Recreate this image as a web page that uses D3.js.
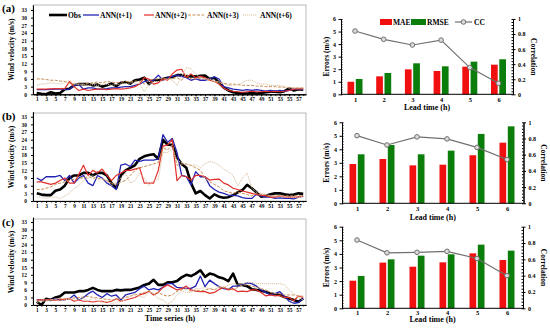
<!DOCTYPE html>
<html>
<head>
<meta charset="utf-8">
<script src="https://cdn.jsdelivr.net/npm/d3@7"></script>
<style>
  body { margin: 0; background: #fff; }
  svg { display: block; }
  text { font-family: "Liberation Serif", "Times New Roman", serif; font-weight: bold; }
</style>
</head>
<body>
<div id="chart"></div>
<script>
// --- Data: wind velocity (m/s), hours 1..58 ---
const obsA  = [0.5,0.2,0,0.8,0.3,0.5,2,2.2,3.5,4, 4,4,3.5,3.8,3,3.5,4.2,3.2,4.5,4.8, 4.2,5.5,5.8,6.5,4,5.5,5.5,6,6.5,6.8, 7.5,7.5,7,7,7,7.2,7.3,6,6.5,4.5, 2.6,1.5,0.8,0.5,0.4,0.3,0.5,0.3,0.5,0.8, 1,1,0.8,1.2,2.3,1.5,2,1.8];
const ann1A = [1.8,1.8,1.8,1.9,2,2,1.9,2,3.5,3.8, 2,2.5,2.5,2,2,2.2,2.5,2.5,2.8,3, 3,3.5,4,5,5.5,5.5,7.5,5.5,6.5,7, 7.5,7,6.5,5.5,6,5.5,5.5,6,6.8,6, 3,2.5,2,1.8,1.5,1.8,1.5,1.8,1.5,1.2, 1.5,1.2,1.5,1.2,1.5,2,2,1.8];
const ann2A = [2,2,2,2.1,2.2,2.2,2.2,5,3,1.5, 2,1.5,1.8,2,2,1.8,2,2.2,2,2.2, 2.5,3,4,6.5,6,4,4.5,6,5.5,8, 9.5,9.8,6.5,8,6.5,7,6.5,5.5,5,4, 2.5,1.5,1.2,1,0.8,1,1.2,1,1,1.2, 1,1.2,1,1.2,1.5,2,2.2,2];
const ann3A = [6,6,5.8,5.5,5.5,5.2,5,4.2,4,4, 4,4.2,4.5,4.8,4.5,5,4.8,4.5,4.8,5, 5,5.2,5,4,5.5,6,6,6.2,6,6.2, 6.5,5.5,8,6,6,6.2,6,5.5,5,5, 4.2,4,4,3.8,3.5,3.5,3.5,3.2,3.2,3, 3,3,2.8,2.8,2.5,2.5,2.5,2.5];
const ann6A = [3.5,4,4.2,4.5,4.2,4,4.5,5.5,4,4, 3.8,3.5,3.8,3.5,3.8,4,3.5,3.8,4,4.2, 4.5,4.5,4.2,1,4,5,5,5.2,6,5.5, 3.5,7,10.5,10,8,6.5,6,6,5,4.5, 4,3.5,3.5,3.8,4.5,5.5,5.5,4.5,4,4, 3.5,3.5,3.5,3,2.5,2.5,2.5,2.5];

const obsB  = [3,2.5,2.3,2.3,4,4.5,6,9,10,10, 11,11,10,11,11,10,7,5,10,12, 13,14,16.5,17.5,18,18.3,16.5,24,22,22, 17,14.5,13,7,3,3.9,2.3,1,2.6,1.7, 1.3,1.5,2.3,3.4,4.3,6.3,5,3.4,1.7,2, 2.6,3,3,2.6,2.3,2.5,3,2.8];
const ann1B = [9,8,9.5,9.5,9.5,10,8,10,7,9, 10,7,6,10,9,7,6,4.5,14,14.5, 13.5,16,15.5,16,16,16,16.5,26,23,24.5, 19,10,9.5,6.3,11.5,9.5,9.5,6,4.5,3.5, 3,2.3,2.2,2,1.3,1,1,2.6,2,1.5, 1.5,1,1.2,1,1,0.8,1.5,1.8];
const ann2B = [7.5,7.5,7,6.5,7,8,9,7,7,10.5, 14,10,12,11,12.5,10,8,10,11,12, 12,12.5,13,7,7,7,12,21.5,22,24, 8,10,9.5,8.2,10,10,9.5,8.2,8.5,8.6, 7,6.3,5,4.5,3.9,3.5,3,2.5,2.3,2, 1.5,1.5,2,1.5,1.5,1.5,1.5,2];
const ann3B = [4.5,4.5,5,5.5,6.5,7,7.5,8,8.5,9, 9,9.5,9,9,8.5,8,7,6.5,7.5,8, 10,12,13,13.5,14,14.5,15,21,20,22, 14,14.5,14.5,14,13,12,9,7.5,6.5,5.5, 4,3.5,3,3.5,3,2.5,2,3,2.5,2.5, 2,2,2,2,2,2,2,2];
const ann6B = [1.5,1.5,1,1.5,1.5,1,2,3,5,6, 8,9,10,8,9,8,6,7.5,9,11, 7,8,11,9,6,8,8.5,19,19,20.5, 16,15,14.5,14,14,13,14.5,15.5,15,14, 12.5,11.5,10,6,9,11,5,3.5,3,2.5, 2,2,2,1.5,1.5,1.5,1.2,2];

const obsC  = [1.3,0,2.5,2,3,3.5,5,5,5,5.5, 5.5,6,6.8,6,5.5,5.5,5.5,6,5.8,6, 6,6.5,7,8,8.5,10,8,8,9,9, 9.5,11,12,11.5,12.5,13.8,11.2,12.5,12,11, 10.5,9.5,12.5,8,8,7.5,6.3,6,5.7,5.2, 4.6,4.3,4,3.2,2.6,2,1.3,2.6];
const ann1C = [2,2,2,2,2.5,2,2,2.5,4,2, 3,4.5,5.5,4,3,4.5,3.5,4,2,4, 4.5,5,6.5,7.5,6,6.5,6,7,8.5,8.5, 7,6.8,6.6,6.6,7.5,11.5,7.3,9.9,8.5,7.3, 6.5,6.2,7.5,7.5,8,8.8,8.5,7.5,6,5, 4,4.5,5.3,3.5,1.5,0.7,1,2.6];
const ann2C = [2,2,2,2,1.8,2,2.2,2.5,1.5,2, 1.5,1.5,1.2,1.5,1.5,1,1.5,2.5,1.5,2, 2.5,3,4,4.5,5.5,4,5,7,8,7, 6,6.5,7.5,6,5.5,5.3,5.3,4.6,5,6.2, 7,6,6.5,5.3,5.5,5.3,6,6,5,3.6, 4,3.6,3.8,3,3,1.7,3.6,3];
const ann3C = [1.5,2,2,2,2.5,2.5,2.5,2.5,2.8,3, 3.2,3.5,3,2.8,2.5,2.2,2,2.2,2.5,3, 3.5,4,4.5,5,5.5,4.5,5,4,3.5,4, 5.5,6,6.5,5.5,6,5.5,6,6.5,6,7, 7,6.5,6,7,8,8,7.5,7,6.5,6, 5,4.5,4.5,4,4,4,3.5,3.5];
const ann6C = [1,1.5,1.5,2,2,1.5,2,2.5,2,2, 2.5,1.5,3,1.5,1,1.5,0.5,1,1.5,2, 3.5,4.5,3.5,3,5,4.5,2.5,2,0.5,1.5, 4,5.5,5,5,6.5,6.5,7,6.5,6,7.5, 7,8,8.5,8,8.5,9,9,8.5,8.5,8.5, 8.5,8.5,8.5,8,6,4.5,3,2];

const seriesNames = ["Obs", "ANN(t+1)", "ANN(t+2)", "ANN(t+3)", "ANN(t+6)"];
const hours = d3.range(1, obsA.length + 1);
const hourLabels = d3.range(1, 58, 2);
const windTicks = [0, 3, 6, 9, 12, 15, 18, 21, 24, 27, 30, 33];

// --- Data: error statistics per lead time ---
const leadTimes = [1, 2, 3, 4, 5, 6];
const maeA  = [1.0, 1.43, 1.99, 1.86, 2.2, 2.36];
const rmseA = [1.22, 1.7, 2.47, 2.23, 2.6, 2.79];
const ccA   = [0.84, 0.73, 0.655, 0.72, 0.355, 0.146];
const maeB  = [2.91, 3.28, 2.81, 2.86, 3.56, 4.49];
const rmseB = [3.63, 4.32, 3.63, 3.9, 5.14, 5.7];
const ccB   = [0.835, 0.72, 0.82, 0.795, 0.69, 0.54];
const maeC  = [2.03, 3.36, 3.06, 3.38, 4.04, 3.55];
const rmseC = [2.38, 3.6, 3.87, 3.97, 4.68, 4.24];
const ccC   = [0.837, 0.68, 0.686, 0.698, 0.61, 0.4];
const errTicks = [0, 1, 2, 3, 4, 5, 6];
const corTicks = [0, 0.2, 0.4, 0.6, 0.8, 1];

// --- SVG root ---
const svg = d3.select("#chart")
  .append("svg")
  .attr("width", 550)
  .attr("height", 330);

// d3.axis sets font-size 10 on call, so shrink afterwards
const smallAxis = (sel, size) => sel.attr("font-size", size).attr("font-family", null);

// --- Line charts (left column) ---
const lineStyles = [
  { color: "#000000", width: 2.6, dash: null },
  { color: "#2424b4", width: 1.3, dash: null },
  { color: "#e0302c", width: 1.2, dash: null },
  { color: "#c98a50", width: 1.0, dash: "3,1.5" },
  { color: "#dcc2a2", width: 1.0, dash: "1.2,0.8" }
];

const linePanels = [
  { label: "(a)", top: 4.9, bottom: 94.3, frameTop: 5, series: [obsA, ann1A, ann2A, ann3A, ann6A] },
  { label: "(b)", top: 111.6, bottom: 201, frameTop: 113, series: [obsB, ann1B, ann2B, ann3B, ann6B] },
  { label: "(c)", top: 217, bottom: 305, frameTop: 219, series: [obsC, ann1C, ann2C, ann3C, ann6C] }
];

const xTime = d3.scaleLinear().domain([0.2, 58.6]).range([33, 306]);

linePanels.forEach(p => {
  const y = d3.scaleLinear().domain([0, 35]).range([p.bottom, p.top]);
  const g = svg.append("g");

  // grey frame
  g.append("rect")
    .attr("x", 33).attr("y", p.frameTop)
    .attr("width", 273).attr("height", p.bottom - p.frameTop)
    .attr("fill", "none").attr("stroke", "#a8a8a8").attr("stroke-width", 0.8);

  // lines
  const line = d3.line()
    .x((d, i) => xTime(hours[i]))
    .y(d => y(d));

  g.selectAll("path.series")
    .data(p.series)
    .join("path")
    .attr("class", "series")
    .attr("d", line)
    .attr("fill", "none")
    .attr("stroke", (d, i) => lineStyles[i].color)
    .attr("stroke-width", (d, i) => lineStyles[i].width)
    .attr("stroke-dasharray", (d, i) => lineStyles[i].dash)
    .attr("stroke-linejoin", "round");

  // x axis: minor ticks every hour, labels on odd hours
  g.append("g")
    .attr("transform", `translate(0,${p.bottom})`)
    .call(d3.axisBottom(xTime).tickValues(hours).tickSize(1.5).tickSizeOuter(0).tickFormat(""));
  g.append("g")
    .attr("transform", `translate(0,${p.bottom})`)
    .call(d3.axisBottom(xTime).tickValues(hourLabels).tickSize(2).tickSizeOuter(0).tickPadding(1.2))
    .call(smallAxis, 5.4);

  // y axis
  g.append("g")
    .attr("transform", "translate(33,0)")
    .call(d3.axisLeft(y).tickValues(windTicks).tickSize(2).tickSizeOuter(0).tickPadding(4))
    .call(smallAxis, 5.4);

  g.append("text")
    .text("Wind velocity (m/s)")
    .attr("transform", `translate(14,${(p.frameTop + p.bottom) / 2}) rotate(-90)`)
    .attr("text-anchor", "middle")
    .style("font-size", "7.5px");

  g.append("text")
    .text(p.label)
    .attr("x", 2).attr("y", p.frameTop + 7)
    .style("font-size", "11px");
});

svg.append("text")
  .text("Time series (h)")
  .attr("x", 170).attr("y", 321)
  .attr("text-anchor", "middle")
  .style("font-size", "8px");

// legend for the line charts
const lineLegend = [
  { x1: 49, x2: 67, tx: 68 },
  { x1: 83, x2: 99, tx: 100 },
  { x1: 144, x2: 154, tx: 155 },
  { x1: 188, x2: 204, tx: 207 },
  { x1: 243, x2: 257, tx: 260 }
];
const legG = svg.append("g");
seriesNames.forEach((name, i) => {
  legG.append("line")
    .attr("x1", lineLegend[i].x1).attr("x2", lineLegend[i].x2)
    .attr("y1", 15).attr("y2", 15)
    .attr("stroke", lineStyles[i].color)
    .attr("stroke-width", lineStyles[i].width)
    .attr("stroke-dasharray", lineStyles[i].dash);
  legG.append("text")
    .text(name)
    .attr("x", lineLegend[i].tx).attr("y", 17.5)
    .style("font-size", "7.5px");
});

// --- Bar charts (right column) ---
const barPanels = [
  { left: 341, right: 513, c1: 355, c6: 498.5, y0: 94.3, y6: 19, pad: 3, leadY: 110, mae: maeA, rmse: rmseA, cc: ccA },
  { left: 342, right: 523.5, c1: 357, c6: 507, y0: 203.3, y6: 122.3, pad: 3, leadY: 219.5, mae: maeB, rmse: rmseB, cc: ccB },
  { left: 342, right: 523, c1: 357, c6: 507, y0: 308.3, y6: 226.7, pad: 2, leadY: 322, mae: maeC, rmse: rmseC, cc: ccC }
];
const barW = 6.7;
const barGap = 0.8;
const corFormat = d => (d === 0 || d === 1) ? d : d.toFixed(1);

barPanels.forEach(p => {
  const x = d3.scalePoint().domain(leadTimes).range([p.c1, p.c6]);
  const yErr = d3.scaleLinear().domain([0, 6]).range([p.y0, p.y6]);
  const yCor = d3.scaleLinear().domain([0, 1]).range([p.y0, p.y6]);
  const g = svg.append("g");

  // MAE bars (red), RMSE bars (green)
  g.selectAll("rect.mae")
    .data(p.mae)
    .join("rect")
    .attr("class", "mae")
    .attr("x", (d, i) => x(leadTimes[i]) - barGap - barW)
    .attr("y", d => yErr(d))
    .attr("width", barW)
    .attr("height", d => yErr(0) - yErr(d))
    .attr("fill", "#f01010");

  g.selectAll("rect.rmse")
    .data(p.rmse)
    .join("rect")
    .attr("class", "rmse")
    .attr("x", (d, i) => x(leadTimes[i]) + barGap)
    .attr("y", d => yErr(d))
    .attr("width", barW)
    .attr("height", d => yErr(0) - yErr(d))
    .attr("fill", "#0a7d0a");

  // bottom line + category labels
  g.append("line")
    .attr("x1", p.left).attr("x2", p.right)
    .attr("y1", p.y0).attr("y2", p.y0)
    .attr("stroke", "#000").attr("stroke-width", 1);
  g.append("g")
    .attr("transform", `translate(0,${p.y0})`)
    .call(d3.axisBottom(x).tickSize(0).tickPadding(p.pad))
    .call(a => a.select(".domain").remove())
    .call(smallAxis, 6.5);

  // left axis (errors)
  g.append("g")
    .attr("transform", `translate(${p.left},0)`)
    .call(d3.axisLeft(yErr).tickValues(errTicks).tickSize(2.5).tickSizeOuter(0).tickPadding(2.5).tickFormat(d3.format("d")))
    .call(smallAxis, 6);
  g.append("g")
    .attr("transform", `translate(${p.left},0)`)
    .call(d3.axisRight(yErr).tickValues(d3.range(0, 6.01, 0.2)).tickSize(1.5).tickSizeOuter(0).tickFormat(""));

  // right axis (correlation)
  g.append("g")
    .attr("transform", `translate(${p.right},0)`)
    .call(d3.axisRight(yCor).tickValues(corTicks).tickSize(2.5).tickSizeOuter(0).tickPadding(2.5).tickFormat(corFormat))
    .call(smallAxis, 6);
  g.append("g")
    .attr("transform", `translate(${p.right},0)`)
    .call(d3.axisLeft(yCor).tickValues(d3.range(0, 1.001, 0.04)).tickSize(1.5).tickSizeOuter(0).tickFormat(""));

  // CC line with hollow markers
  const ccLine = d3.line()
    .x((d, i) => x(leadTimes[i]))
    .y(d => yCor(d));
  g.append("path")
    .attr("d", ccLine(p.cc))
    .attr("fill", "none")
    .attr("stroke", "#707070")
    .attr("stroke-width", 1.2);
  g.selectAll("circle")
    .data(p.cc)
    .join("circle")
    .attr("cx", (d, i) => x(leadTimes[i]))
    .attr("cy", d => yCor(d))
    .attr("r", 2.3)
    .attr("fill", "#dcdcdc")
    .attr("stroke", "#707070")
    .attr("stroke-width", 1);

  // axis titles
  g.append("text")
    .text("Errors (m/s)")
    .attr("transform", `translate(327,${(p.y0 + p.y6) / 2}) rotate(-90)`)
    .attr("text-anchor", "middle")
    .attr("dominant-baseline", "middle")
    .style("font-size", "7.5px");
  g.append("text")
    .text("Correlation")
    .attr("transform", `translate(${p.right + 19.5},${(p.y0 + p.y6) / 2}) rotate(90)`)
    .attr("text-anchor", "middle")
    .attr("dominant-baseline", "middle")
    .style("font-size", "7.5px");
  g.append("text")
    .text("Lead time (h)")
    .attr("x", (p.left + p.right) / 2).attr("y", p.leadY)
    .attr("text-anchor", "middle")
    .style("font-size", "8px");
});

// legend for the bar charts
const barLeg = svg.append("g");
barLeg.append("rect").attr("x", 380).attr("y", 19).attr("width", 12).attr("height", 6).attr("fill", "#f01010");
barLeg.append("text").text("MAE").attr("x", 393).attr("y", 25).style("font-size", "7.5px");
barLeg.append("rect").attr("x", 411).attr("y", 19).attr("width", 15).attr("height", 6).attr("fill", "#0a7d0a");
barLeg.append("text").text("RMSE").attr("x", 427).attr("y", 25).style("font-size", "7.5px");
barLeg.append("line").attr("x1", 455).attr("x2", 472).attr("y1", 22).attr("y2", 22)
  .attr("stroke", "#707070").attr("stroke-width", 1.2);
barLeg.append("circle").attr("cx", 463.5).attr("cy", 22).attr("r", 2.3)
  .attr("fill", "#dcdcdc").attr("stroke", "#707070").attr("stroke-width", 1);
barLeg.append("text").text("CC").attr("x", 474).attr("y", 25).style("font-size", "7.5px");
</script>
</body>
</html>
